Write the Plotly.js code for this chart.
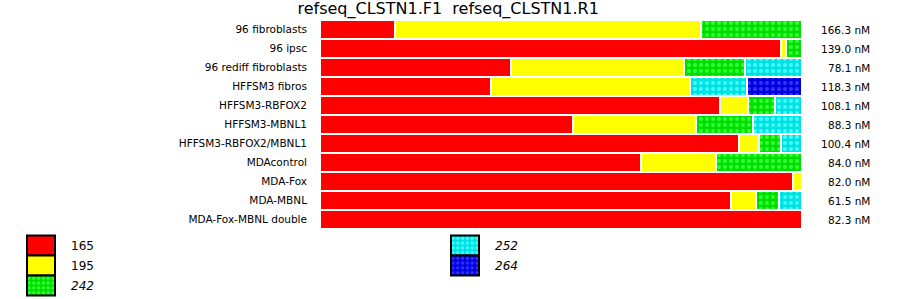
<!DOCTYPE html>
<html>
<head>
<meta charset="utf-8">
<script src="https://cdn.plot.ly/plotly-3.0.1.min.js"></script>
<style>html,body{margin:0;padding:0;background:#fff;}#chart{width:900px;height:299px;}</style>
</head>
<body>
<div id="chart"></div>
<script>
const categories = ['96 fibroblasts','96 ipsc','96 rediff fibroblasts','HFFSM3 fibros','HFFSM3-RBFOX2','HFFSM3-MBNL1','HFFSM3-RBFOX2/MBNL1','MDAcontrol','MDA-Fox','MDA-MBNL','MDA-Fox-MBNL double'];
const p165 = [15.6, 95.6, 39.6, 35.4, 82.9, 52.5, 86.9, 66.5, 98.1, 85.2, 100];
const p195 = [63.5, 1.1, 36.0, 41.3, 5.8, 25.6, 4.2, 15.6, 1.9, 5.2, 0];
const p242 = [20.8, 3.3, 12.5, 0, 5.8, 11.7, 4.6, 17.9, 0, 4.8, 0];
const p252 = [0, 0, 11.9, 11.9, 5.4, 10.2, 4.4, 0, 0, 4.8, 0];
const p264 = [0, 0, 0, 11.5, 0, 0, 0, 0, 0, 0, 0];
const concentrations = [166.3, 139.0, 78.1, 118.3, 108.1, 88.3, 100.4, 84.0, 82.0, 61.5, 82.3];
const seriesNames = ['165', '195', '<i>242</i>', '<i>252</i>', '<i>264</i>'];

const FONT = 'DejaVu Sans, sans-serif';
function mk(vals, name, color, pattern, legend) {
  const marker = {color: color, line: {color: '#ffffff', width: 2}};
  if (pattern) marker.pattern = {shape: '.', fgcolor: pattern, bgcolor: color, size: 6, solidity: 0.35, fillmode: 'replace'};
  return {type: 'bar', orientation: 'h', x: vals, y: categories, name: name, marker: marker,
          legend: legend, legendgroup: name, hoverinfo: 'skip'};
}
const data = [
  mk(p165, seriesNames[0], '#ff0000', null, 'legend'),
  mk(p195, seriesNames[1], '#ffff00', null, 'legend'),
  mk(p242, seriesNames[2], '#00dd00', '#33ff33', 'legend'),
  mk(p252, seriesNames[3], '#00e0e0', '#44ffff', 'legend2'),
  mk(p264, seriesNames[4], '#0000dd', '#3333ff', 'legend2')
];
const annotations = categories.map((c, i) => ({
  xref: 'paper', yref: 'y', x: 1.145, y: c, xanchor: 'right', yanchor: 'middle',
  text: concentrations[i].toFixed(1) + ' nM', showarrow: false,
  font: {family: FONT, size: 10.5, color: '#000'}
}));
const legendCommon = {xanchor: 'left', yanchor: 'top', xref: 'container', yref: 'container', orientation: 'v',
  traceorder: 'grouped', tracegroupgap: 1, itemwidth: 50,
  font: {family: FONT, size: 12, color: '#000'}, bgcolor: 'rgba(0,0,0,0)', borderwidth: 0};
const layout = {
  width: 900, height: 299,
  margin: {l: 320, r: 98, t: 20, b: 70, pad: 0, autoexpand: false},
  paper_bgcolor: '#fff', plot_bgcolor: '#fff',
  barmode: 'stack', bargap: 0.03,
  title: {text: 'refseq_CLSTN1.F1  refseq_CLSTN1.R1', font: {family: FONT, size: 16, color: '#000'},
          x: 0.498, xanchor: 'center', y: 1 - 8/299, yanchor: 'middle', yref: 'container'},
  xaxis: {range: [0, 100], showticklabels: false, showgrid: false, zeroline: false, showline: false, fixedrange: true, automargin: false},
  yaxis: {type: 'category', autorange: 'reversed', showgrid: false, zeroline: false, showline: false, automargin: false,
          ticks: '', ticklabelstandoff: 12, tickfont: {family: FONT, size: 10.5, color: '#000'}},
  showlegend: true,
  legend: Object.assign({}, legendCommon, {x: 11/900, y: 68/299}),
  legend2: Object.assign({}, legendCommon, {x: 435/900, y: 68/299}),
  annotations: annotations
};
Plotly.newPlot('chart', data, layout, {staticPlot: true, displayModeBar: false}).then(function (gd) {
  gd.querySelectorAll('.legendpoints path').forEach(function (p) {
    p.setAttribute('d', 'M14,10H-14V-10H14Z');
    p.style.stroke = '#000';
    p.style.strokeWidth = '2px';
  });
});
</script>
</body>
</html>
